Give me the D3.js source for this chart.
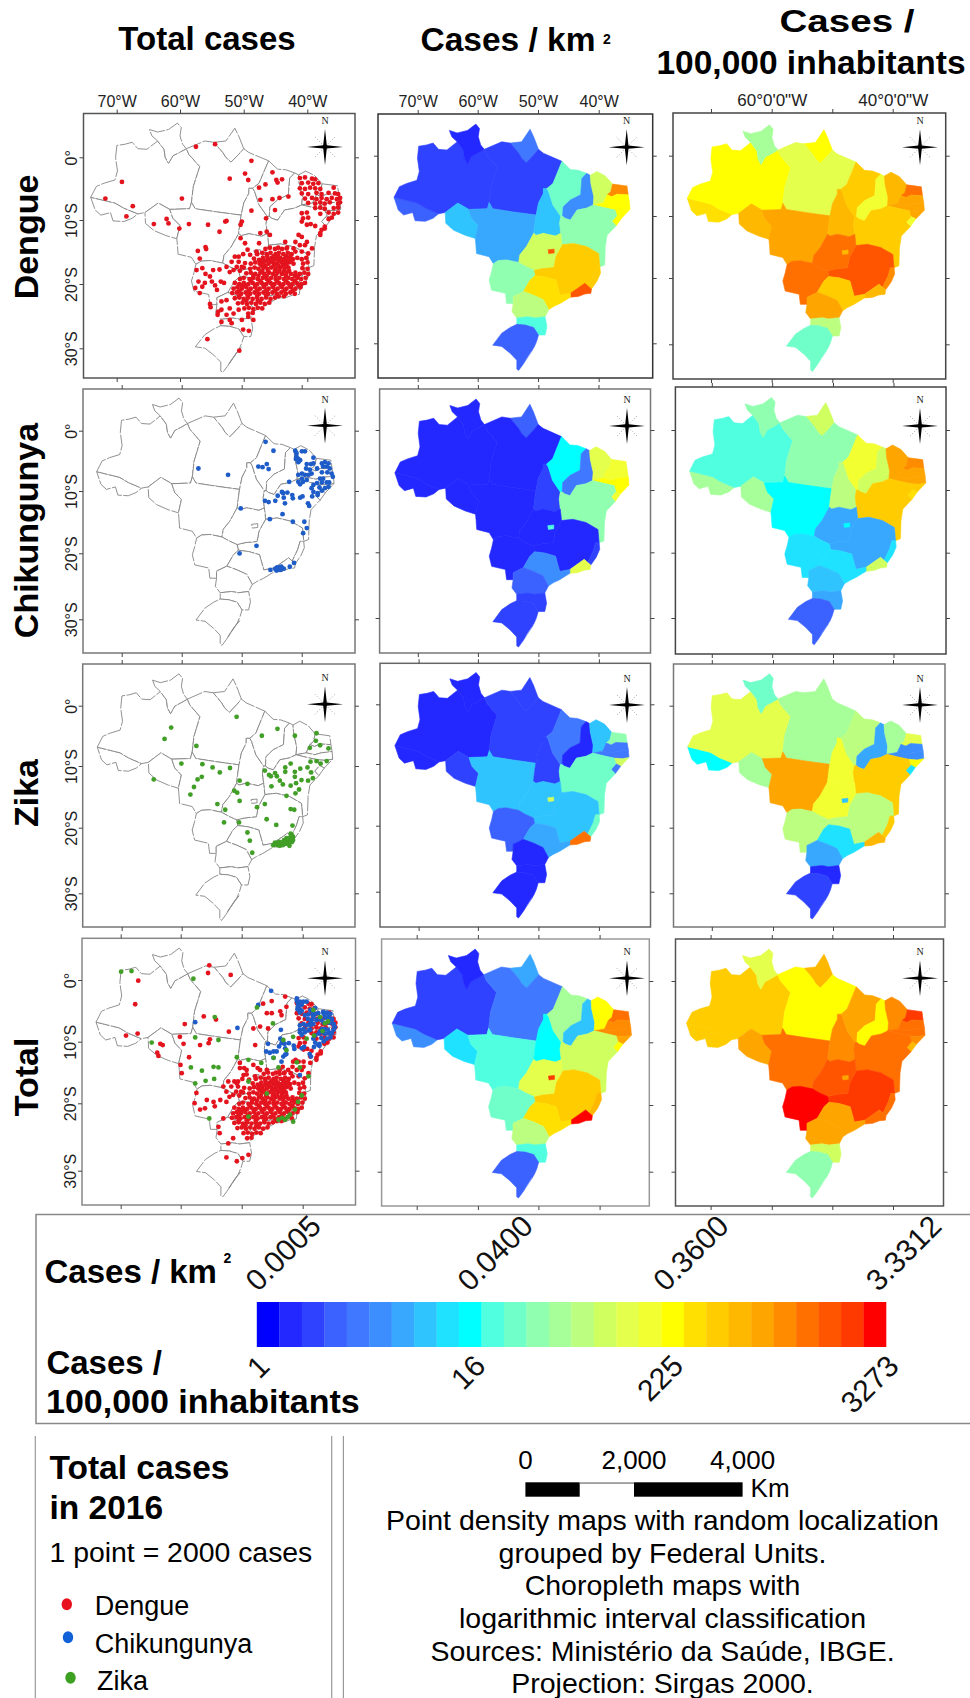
<!DOCTYPE html>
<html>
<head>
<meta charset="utf-8">
<script src="https://cdn.jsdelivr.net/npm/d3@7"></script>
<style>
  body { margin: 0; background: #fff; }
  text { font-family: "Liberation Sans", Arial, sans-serif; }
  .domain { display: none; }
</style>
</head>
<body>
<div id="chart"></div>
<script>
// labels
const columnNames = ["Total cases", "Cases / km", "Cases /", "100,000 inhabitants"]
const rowNames = ["Dengue", "Chikungunya", "Zika", "Total"]
const lonTicks = [-70, -60, -50, -40]
const latTicks = [0, -10, -20, -30]
const lonLabels = ["70°W", "60°W", "50°W", "40°W"]
const lonLabelsDms = ["", "60°0'0\"W", "", "40°0'0\"W"]
const latLabels = ["0°", "10°S", "20°S", "30°S"]

// colour classes of the legend, blue to red
const ramp = ["#0000ff", "#2228ff", "#2e42ff", "#3b62ff", "#4078ff", "#3c8eff", "#38a8ff", "#30c4ff", "#1ee2ff", "#00ffff",
  "#50ffe0", "#70ffc8", "#90ffb0", "#a6ff98", "#bcff80", "#d0ff60", "#e4ff4c", "#f2ff30", "#ffff00", "#ffe000",
  "#ffcc00", "#ffb800", "#ffa500", "#ff8c00", "#ff7000", "#ff5500", "#ff3a00", "#ff0000"]
const kmLabels = ["0.0005", "0.0400", "0.3600", "3.3312"]
const popLabels = ["1", "16", "225", "3273"]

// state outlines, lon / lat
const stateNames = ["AC","AM","RR","AP","PA","RO","MT","TO","MA","PI","CE","RN","PB","PE","AL","SE","BA","MG","ES","RJ","GO","DF","MS","SP","PR","SC","RS"]
const AC = [[-74,-6.3],[-70.2,-7.2],[-68.8,-8],[-66.6,-8.9],[-67.5,-9.6],[-68.8,-10.1],[-70.5,-10],[-70.9,-8.7],[-72.4,-9.1],[-73.3,-8.3]]
const AM = [[-74,-6.3],[-73.1,-4.6],[-71.9,-4.1],[-70.2,-3.6],[-69.8,-2.2],[-70.1,-0.1],[-69.9,1.8],[-68.6,2],[-67.5,2.3],[-66.6,1.3],[-65.2,1.2],[-63.5,2.5],[-62.5,1.2],[-62.3,-0.1],[-61.8,-1],[-61.1,0.2],[-60.1,0.7],[-59,1.3],[-58.6,0.4],[-56.9,-1.5],[-57.9,-4.6],[-58.2,-7.1],[-58.5,-8.1],[-61.6,-8.2],[-63.4,-7.2],[-65.5,-8.7],[-66.6,-8.9],[-68.8,-8],[-70.2,-7.2]]
const RR = [[-64.8,4.3],[-63.5,3.9],[-61.8,4.3],[-60.4,5.3],[-59.8,4.6],[-60,3.3],[-59.6,2],[-59,1.3],[-60.1,0.7],[-61.1,0.2],[-61.8,-1],[-62.3,-0.1],[-62.5,1.2],[-63.5,2.5],[-64.4,3.3]]
const AP = [[-54.7,2.3],[-52.8,2.5],[-51.4,4.5],[-50.8,3.3],[-50,1.3],[-50.8,0.4],[-52,-0.8],[-52.8,-0.1],[-53.3,0.7]]
const PA = [[-59,1.3],[-56.1,2.5],[-54.7,2.3],[-53.3,0.7],[-52.8,-0.1],[-52,-0.8],[-50.8,0.4],[-50,1.3],[-49.2,0.7],[-46.1,-0.6],[-46.7,-2],[-47.6,-4.1],[-48.6,-4.9],[-49.2,-4.9],[-49.2,-5.7],[-50,-7.2],[-50.4,-9.1],[-54.2,-8.6],[-57.6,-8.1],[-58.2,-7.1],[-57.9,-4.6],[-56.9,-1.5],[-58.6,0.4]]
const RO = [[-65.5,-8.7],[-63.4,-7.2],[-61.6,-8.2],[-61.1,-9.6],[-60,-10.7],[-60.5,-12.8],[-62.2,-12.3],[-64.1,-11.5],[-65.4,-10.4]]
const MT = [[-61.6,-8.2],[-58.5,-8.1],[-58.2,-7.1],[-57.6,-8.1],[-54.2,-8.6],[-50.4,-9.1],[-50.6,-10.4],[-50.8,-12],[-52,-14.1],[-53.1,-15.4],[-53.3,-16.6],[-55.3,-16.2],[-56.7,-16.3],[-57.5,-16.8],[-58.2,-15.7],[-60.3,-15.2],[-60.4,-13.8],[-60.5,-12.8],[-60,-10.7],[-61.1,-9.6]]
const TO = [[-49.2,-4.9],[-48.6,-4.9],[-48.3,-5.4],[-47.6,-7.5],[-46.3,-9.3],[-46.5,-10.4],[-46.3,-12],[-47.2,-12.4],[-49.2,-12],[-50.4,-12.3],[-50.8,-12],[-50.6,-10.4],[-50.4,-9.1],[-50,-7.2],[-49.2,-5.7]]
const MA = [[-46.1,-0.6],[-44.7,-1.9],[-43.4,-2],[-42,-2.5],[-42.8,-3.3],[-43,-5.9],[-44.7,-6.7],[-45.9,-7.8],[-46,-9.3],[-46.3,-9.3],[-47.6,-7.5],[-48.3,-5.4],[-48.6,-4.9],[-47.6,-4.1],[-46.7,-2]]
const PI = [[-42.8,-3.3],[-42,-2.5],[-41.4,-2.8],[-41.3,-4.1],[-40.8,-6.2],[-40.9,-7.5],[-42,-8],[-43.6,-8.3],[-44.7,-9.9],[-45.6,-9.6],[-46,-9.3],[-45.9,-7.8],[-44.7,-6.7],[-43,-5.9]]
const CE = [[-41.4,-2.8],[-40.3,-2.2],[-38.9,-2.9],[-37.7,-4.2],[-38,-5.4],[-38.6,-5.9],[-39.2,-7.2],[-40.9,-7.5],[-40.8,-6.2],[-41.3,-4.1]]
const RN = [[-37.7,-4.2],[-35.3,-4.5],[-35.1,-5.9],[-37,-5.8],[-37.8,-6.2],[-38.6,-5.9],[-38,-5.4]]
const PB = [[-38.6,-5.9],[-37.8,-6.2],[-37,-5.8],[-35.1,-5.9],[-34.9,-7],[-36.7,-7.2],[-37.8,-7.5],[-39.2,-7.2]]
const PE = [[-40.9,-7.5],[-39.2,-7.2],[-37.8,-7.5],[-36.7,-7.2],[-34.9,-7],[-34.8,-8.2],[-35.9,-8.4],[-37.3,-8.3],[-39.2,-7.9]]
const AL = [[-37.3,-8.3],[-35.9,-8.4],[-34.8,-8.2],[-36.2,-9.6],[-37,-9.2]]
const SE = [[-37,-9.2],[-36.2,-9.6],[-37.1,-10.8],[-37.8,-10.1]]
const BA = [[-46.3,-9.3],[-46,-9.3],[-45.6,-9.6],[-44.7,-9.9],[-43.6,-8.3],[-42,-8],[-40.9,-7.5],[-39.2,-7.9],[-37.3,-8.3],[-37,-9.2],[-37.8,-10.1],[-37.1,-10.8],[-38.6,-12.3],[-38.9,-14.1],[-39,-17],[-39.8,-17.3],[-40,-15.2],[-42,-14.1],[-44.2,-13.6],[-46.1,-13.8],[-46.3,-12],[-46.5,-10.4]]
const MG = [[-46.1,-13.8],[-44.2,-13.6],[-42,-14.1],[-40,-15.2],[-39.8,-17.3],[-40.4,-17.3],[-40.8,-18.6],[-41.7,-20.4],[-42.3,-19.9],[-44.7,-21.5],[-46.4,-21.8],[-47.1,-19.4],[-48.9,-18.9],[-50.6,-18.7],[-50.8,-17.8],[-49.5,-17.5],[-47.5,-17.3],[-47.2,-15.7]]
const ES = [[-39.8,-17.3],[-39.7,-18.3],[-40.3,-19.6],[-41.2,-20.8],[-41.7,-20.4],[-40.8,-18.6],[-40.4,-17.3]]
const RJ = [[-44.7,-21.5],[-42.3,-19.9],[-41.7,-20.4],[-41.2,-20.8],[-41.3,-21.5],[-42.3,-21.6],[-43.4,-22],[-44.7,-22.1]]
const GO = [[-50.8,-12],[-50.4,-12.3],[-49.2,-12],[-47.2,-12.4],[-46.3,-12],[-46.1,-13.8],[-47.2,-15.7],[-47.5,-17.3],[-49.5,-17.5],[-50.8,-17.8],[-52.2,-17.2],[-53.3,-16.6],[-53.1,-15.4],[-52,-14.1]]
const DF = [[-48.4,-14.6],[-47.4,-14.5],[-47.4,-15.1],[-48.3,-15.2]]
const MS = [[-57.5,-16.8],[-56.7,-16.3],[-55.3,-16.2],[-53.3,-16.6],[-52.2,-17.2],[-50.8,-17.8],[-50.6,-18.7],[-51.4,-19.4],[-52.5,-21.2],[-54.2,-22],[-54.2,-23.1],[-55.3,-23.1],[-55.5,-21.5],[-57.8,-21],[-58.2,-19.4],[-57.8,-18.1]]
const SP = [[-50.6,-18.7],[-48.9,-18.9],[-47.1,-19.4],[-46.4,-21.8],[-44.7,-21.5],[-44.7,-22.1],[-46.4,-23.1],[-47.5,-23.6],[-48.3,-24.1],[-49.2,-22.5],[-50.8,-21.8],[-52.5,-21.2],[-51.4,-19.4]]
const PR = [[-54.2,-22],[-52.5,-21.2],[-50.8,-21.8],[-49.2,-22.5],[-48.3,-24.1],[-48.9,-25.2],[-50.6,-25.4],[-51.7,-25.2],[-53.6,-25.4],[-54.4,-24.4],[-54.2,-23.1]]
const SC = [[-53.6,-25.4],[-51.7,-25.2],[-50.6,-25.4],[-48.9,-25.2],[-48.6,-26.8],[-48.9,-28.1],[-50,-28.1],[-50.8,-26.9],[-52.2,-26.5],[-53.6,-26.4]]
const RS = [[-53.6,-26.4],[-52.2,-26.5],[-50.8,-26.9],[-50,-28.1],[-50.3,-29.1],[-50.8,-30.2],[-51.7,-31.5],[-52.6,-32.8],[-53.3,-33.7],[-53.6,-33.5],[-53.6,-32.1],[-54.7,-31],[-56.1,-29.9],[-57.6,-29.7],[-56.1,-27.8],[-54.7,-26.9]]
const lagoon = [[-50.4,-29.8],[-50.8,-30.2],[-51.5,-31.2],[-52,-31.9],[-52.3,-32.3],[-51.9,-31.7],[-51.2,-30.7],[-50.7,-30.2]]
const stateShapes = [AC,AM,RR,AP,PA,RO,MT,TO,MA,PI,CE,RN,PB,PE,AL,SE,BA,MG,ES,RJ,GO,DF,MS,SP,PR,SC,RS]

// ramp class by state, same order as stateNames
const dengueKm = [3,2,1,4,2,7,6,7,11,5,15,23,18,18,18,18,12,20,20,25,15,25,12,19,14,10,3]
const denguePop = [19,18,13,18,16,21,22,21,20,17,21,24,22,22,22,17,20,25,23,21,24,21,24,20,22,14,11]
const chikKm = [1,1,1,3,1,1,1,2,9,4,16,17,17,18,18,17,12,1,2,16,1,10,1,5,3,2,2]
const chikPop = [13,10,12,15,12,13,9,14,17,15,22,23,22,22,20,19,20,6,8,15,6,9,8,8,7,6,3]
const zikaKm = [1,1,1,2,2,2,7,2,4,1,7,12,4,4,15,4,11,7,11,24,7,15,3,6,1,1,1]
const zikaPop = [9,16,11,13,13,13,22,17,14,6,13,16,5,5,18,8,20,14,20,21,17,7,14,8,6,1,2]
const totalKm = [5,2,1,6,4,8,10,9,13,7,18,24,23,23,22,18,15,20,21,27,16,26,11,19,14,10,3]
const totalPop = [20,20,16,21,18,22,24,23,22,18,23,26,24,24,23,21,24,26,24,24,25,22,27,22,22,15,12]

// points, 1 point = 2000 cases
const dengueWest = [[-69.1,-3.9],[-71.7,-6.5],[-67.4,-7.7],[-68.4,-9.3],[-59.7,-6.5],[-57.5,1.6],[-54.5,2],[-48.8,-0.6],[-49.8,-2.6],[-49.3,-3.6],[-52.2,-3.4],[-64.1,-10.5],[-62.1,-9.7],[-61.8,-10.4],[-60.1,-11.2],[-58.6,-10.5],[-55.6,-10.6],[-53.8,-11.7],[-52.7,-10],[-52.9,-10.1],[-50.3,-10.1],[-50.5,-10.6],[-57.2,-14.7],[-56,-14.1],[-55.9,-14.4],[-56.9,-15.9],[-57.4,-17.7],[-56.5,-17.4],[-54.8,-17.7],[-53.8,-17.6],
  [-56,-18.3],[-55.3,-18.7],[-57.1,-19.5],[-56.1,-19.7],[-54.5,-20.1],[-55,-19.5],[-53.6,-19.5],[-53.1,-19.7],[-56.5,-20.3],[-57.6,-20.5],[-56.9,-21.3],[-54.2,-20.8],[-55.3,-23],[-55.2,-23.5],[-54,-24.2],[-54.1,-24.7],[-53.5,-22.6],[-52.7,-22.4],[-53.5,-23.9],[-52.2,-23.7],[-52.7,-24.7],[-53.5,-25.8],[-52.2,-25.5],[-51.6,-24.5],[-50.8,-23.9],[-50.3,-25.5],[-51.9,-26],[-50.1,-27],[-49.2,-27.2],[-48.5,-25.5],[-49.3,-25],[-55.7,-28.5],[-50.7,-30.3],
  [-45.5,-2.4],[-44.9,-3.6],[-44.7,-4],[-44,-3.5],[-46.6,-4.3],[-47.4,-6.7],[-45.5,-6.6],[-44.4,-6.4],[-43,-6.2],[-45.1,-8.3],[-47.6,-4.8],[-48.8,-8.4],[-46.5,-9.6],[-47.4,-11.9],[-45.9,-12.2],[-46.4,-11.7]]
const dengueEast = [[-52.7,-17.2],[-51.9,-16.4],[-51.4,-15.6],[-50.8,-16.4],[-50.3,-17.2],[-51.1,-17.2],[-51.6,-17.7],[-50.6,-17.8],[-49.8,-16.6],[-52.2,-18],[-50.5,-12.7],[-49.8,-13.5],[-49.4,-14.5],[-50.1,-15.2],[-50.8,-15.6],[-49,-15.3],[-48,-14.8],[-47.6,-13.5],
  [-43.5,-13.3],[-41.9,-13.3],[-41.4,-12.2],[-40.9,-12.5],[-40.1,-13.3],[-39.3,-14.3],[-40.4,-13.8],[-41.2,-13.8],[-42.2,-14.3],[-43.3,-14.3],[-40.9,-14.8],[-39.9,-15.1],[-41.9,-14.8],[-38,-11.9],[-37.3,-11.2],[-40.9,-10.1],[-40.1,-10.6],[-39.5,-10.5],[-38.8,-10.8],[-37.3,-10.9],[-37.8,-11.4],[-38,-12.2],
  [-41.2,-3.3],[-40.4,-3.2],[-39.3,-3.4],[-38.8,-3.5],[-40.9,-4.1],[-39.9,-4],[-39.1,-4.2],[-38.3,-4.1],[-41.2,-4.9],[-40.4,-5],[-39.6,-4.8],[-38.8,-4.9],[-38,-5],[-35.9,-4.8],[-40.9,-5.7],[-39.9,-5.8],[-38.6,-5.6],[-37.8,-5.8],[-36.7,-5.6],[-35.7,-5.7],[-35.2,-5.8],[-40.4,-6.5],[-39.3,-6.4],[-38.6,-6.6],[-37.8,-6.4],[-37,-6.6],[-36.2,-6.4],[-35.4,-6.6],[-34.9,-6.4],[-39.9,-7.2],[-38.8,-7.3],[-38,-7.1],[-37.3,-7.3],[-36.5,-7.1],[-35.2,-7.3],[-34.9,-7.1],[-38.8,-8],[-38,-7.9],[-37.3,-8.1],[-35.9,-8],[-35.2,-7.9],[-40.9,-8.8],[-40.1,-8.7],[-38,-8.9],[-36.7,-8.7],[-35.9,-8.9],[-35.2,-8.7],[-40.7,-9.6],[-39.9,-9.5],[-36.7,-9.7],[-36.2,-9.5]]
const dengueDense = [[-46.6,-14.4],[-45.9,-14.2],[-45.1,-14.4],[-44.6,-14.2],[-44,-14.4],[-43.2,-14.2],[-47.9,-15.2],[-47.1,-15],[-46.4,-15.2],[-45.8,-15],[-45,-15.2],[-44.5,-15],[-43.8,-15.2],[-43.1,-15],[-42.5,-15.2],
  [-48.4,-15.9],[-47.6,-16.1],[-47,-15.8],[-46.2,-16],[-45.6,-15.8],[-45,-16],[-44.3,-15.8],[-43.7,-16],[-43,-15.8],[-42.3,-16],[-41.6,-15.8],[-40.9,-16],[-40.2,-15.8],
  [-48.9,-16.7],[-48.2,-16.5],[-47.5,-16.7],[-46.9,-16.5],[-46.1,-16.7],[-45.4,-16.5],[-44.8,-16.7],[-44.1,-16.5],[-43.5,-16.7],[-42.9,-16.5],[-42.2,-16.7],[-40.7,-16.7],[-40,-16.5],
  [-50,-17.3],[-49,-17.5],[-48.3,-17.3],[-47.7,-17.5],[-46.9,-17.3],[-46.3,-17.5],[-45.7,-17.3],[-45,-17.5],[-44.3,-17.3],[-43.6,-17.5],[-43,-17.3],[-40.8,-17.4],[-40,-17.5],
  [-49.6,-18.2],[-48.9,-18.1],[-48.2,-18.3],[-47.4,-18.1],[-46.8,-18.3],[-46,-18.1],[-45.4,-18.3],[-44.7,-18.1],[-44,-18.3],[-43.3,-18.1],[-42.6,-18.3],[-41.9,-18.1],[-41.2,-18.3],[-40.5,-18.1],[-39.9,-18.3],
  [-50.6,-19.1],[-50,-18.9],[-49.1,-19.1],[-48.5,-18.9],[-47.8,-19.1],[-47,-18.9],[-46.4,-19.1],[-45.7,-18.9],[-45,-19.1],[-44.4,-18.9],[-43.7,-19.1],[-43,-18.9],[-42.4,-19.1],[-41.6,-18.9],[-41,-19.1],[-40.3,-18.9],
  [-51.4,-19.7],[-50.7,-19.9],[-50,-19.7],[-49.3,-19.9],[-48.6,-19.7],[-47.9,-19.9],[-47.2,-19.7],[-46.5,-19.9],[-45.8,-19.7],[-45.2,-19.9],[-44.5,-19.7],[-43.8,-19.9],[-43.1,-19.7],[-42.4,-19.9],[-41.7,-19.7],[-41,-19.9],[-40.4,-19.7],
  [-51.6,-20.6],[-51,-20.4],[-50.3,-20.6],[-49.6,-20.4],[-48.9,-20.6],[-48.2,-20.4],[-47.5,-20.6],[-46.8,-20.4],[-46.1,-20.6],[-45.4,-20.4],[-44.7,-20.6],[-44,-20.4],[-43.3,-20.6],[-42.6,-20.4],[-41.9,-20.6],[-41.1,-20.4],
  [-51.8,-21.3],[-51.1,-21.2],[-50.4,-21.4],[-49.7,-21.2],[-49,-21.4],[-48.3,-21.2],[-47.6,-21.4],[-46.9,-21.2],[-46.2,-21.4],[-45.5,-21.2],[-44.8,-21.4],[-44.1,-21.2],[-43.4,-21.4],[-42.7,-21.2],[-42,-21.4],
  [-51.4,-22.1],[-50.7,-22],[-50,-22.2],[-49.3,-22],[-48.6,-22.2],[-47.9,-22],[-47.2,-22.2],[-46.5,-22],[-45.8,-22.2],[-45.1,-22],[-50.9,-22.9],[-50.2,-22.8],[-49.5,-23],[-48.8,-22.8],[-48.1,-23],[-47.4,-22.8],[-46.7,-23],[-46,-22.8],[-49.9,-23.7],[-49.2,-23.6],[-48.5,-23.8],[-47.8,-23.6],[-47.1,-23.7],[-49.3,-24.5],[-48.6,-24.4],
  [-46.3,-15.6],[-45.3,-15.5],[-44.6,-15.6],[-43.4,-15.5],[-42.7,-15.6],[-47.3,-16.3],[-46.5,-16.2],[-45.7,-16.3],[-44.5,-16.2],[-43.8,-16.3],[-43.2,-16.2],[-42.6,-16.3],[-47.2,-17],[-46.6,-17],[-45.3,-17],[-44.6,-17],[-43.9,-17],[-43.3,-17],[-47.1,-17.8],[-46.2,-17.9],[-45.1,-17.8],[-44.4,-17.8],[-43.7,-17.9],[-42.9,-17.8],[-48.5,-18.6],[-47.7,-18.6],[-46.4,-18.6],[-45,-18.6],[-43.4,-18.6],[-42,-18.6],[-41.5,-18.6],[-48.9,-19.4],[-47.4,-19.4],[-46.1,-19.4],[-44.8,-19.4],[-43.4,-19.4],[-42,-19.4],[-50.4,-20.1],[-49.9,-20.1],[-48.2,-20.1],[-46.9,-20.1],[-45.5,-20.1],[-44.2,-20.1],[-42.8,-20.1],[-41.4,-20.1],[-50.7,-20.9],[-49.2,-20.9],[-47.9,-20.9],[-46.4,-20.9],[-45.1,-20.9],[-43.6,-20.9],[-42.3,-20.9],[-50.7,-21.7],[-49.4,-21.7],[-47.9,-21.7],[-46.5,-21.7],[-44.5,-21.8],[-43.7,-21.8],[-49.6,-22.5],[-47.8,-22.5]]
const chikPoints = [[-46.1,-1.6],[-44.8,-3],[-57.2,-5.8],[-52.3,-6.8],[-47.3,-5.5],[-46.6,-5.6],[-45.9,-5.1],[-45.6,-5.9],[-42.2,-7.9],[-50.2,-12.1],[-47.6,-18],[-50.4,-19.2],[-45.4,-13.8],[-43.3,-13],[-41.6,-14.2],[-39.7,-14.2],[-39.3,-15.2],[-39.9,-16],[-41.4,-20.7],[-42.1,-21.3],[-45.3,-21.8],[-44.5,-21.6],[-44.2,-21.4],[-43.9,-21.8],[-43.5,-21.3],[-43.1,-21.6],[-43.8,-21.4],[-44.3,-21.9],[-43.6,-21.8],
  [-46.2,-10.9],[-45.6,-11.1],[-44.5,-10.9],[-44.1,-10.1],[-43.4,-9.5],[-43.2,-9.7],[-42.5,-9.6],[-43.1,-10.4],[-42.9,-11.3],[-41.7,-10],[-41.6,-10.5],[-40.4,-10.4],[-40,-10.2],[-39.1,-11.3],[-38.9,-11.7],[-38.4,-10.2],[-37.5,-10],
  [-41.2,-3],[-41,-3.4],[-40.1,-3.1],[-39.6,-3.1],[-41,-3.9],[-40.7,-4.3],[-40.4,-4.5],[-41.1,-4.3],[-40.7,-4.8],[-38.2,-4.1],[-39.3,-5.1],[-38.6,-5.1],[-38.2,-5],[-36.8,-5],[-36.3,-4.8],[-35.7,-5],[-36.6,-5.5],[-36,-5.5],[-35.5,-5.8],[-35.2,-6.6],[-35,-7.1],[-35.9,-6.4],[-36.8,-6.4],[-37.6,-5.8],[-38.8,-6],[-39.4,-5.8],[-40.1,-6.6],[-40.7,-6.8],[-39.6,-6.8],[-39,-6.8],[-38.5,-6.6],[-40.1,-7.4],[-40.7,-7.9],[-39.9,-7.9],[-40.4,-8.3],[-39.3,-7.6],[-37.1,-7.4],[-36.6,-7.4],[-37.6,-8.1],[-36.8,-8],[-38.2,-8.4],[-36,-8],[-35.6,-8],[-37.2,-8.8],[-36.3,-8.9],[-35.7,-8.7],[-38.2,-9.5],[-37.5,-9.7],[-36.8,-9.3],[-38.5,-8.9]]
const zikaPoints = [[-61.7,-3.2],[-62.8,-5],[-57.5,-6.1],[-60,-8.9],[-64.6,-11.4],[-50.8,-1.5],[-56.5,-9],[-54.8,-9.5],[-53.6,-10.3],[-51.9,-9.6],[-56.6,-11],[-57.3,-11.4],[-57.9,-12.6],[-58.5,-13.8],[-54,-15.3],[-52.7,-16.2],[-52.9,-18.2],[-50.4,-18.2],[-51.2,-13.2],[-50.7,-13.5],[-50.3,-14.8],[-50.3,-11.6],[-49,-12.1],[-46.6,-4.5],[-44,-3.4],[-41.1,-4.5],[-47.4,-15.8],[-46.1,-15.3],[-45.8,-17.7],[-44.2,-18.6],[-49,-19.8],[-48.6,-21.1],[-48.2,-23],[-42.5,-14],[-41.8,-16.1],[-41.2,-16.2],[-41.5,-18.7],
  [-46.1,-10],[-45.4,-10.7],[-45.1,-10.9],[-44.4,-10.4],[-44.1,-10.9],[-43.6,-11.6],[-43.1,-12.2],[-45,-12.5],[-41.8,-12.4],[-40.9,-12],[-40,-11.5],[-38.9,-11.6],[-38.1,-11.2],[-40.4,-13],[-41,-13.6],[-41.1,-11],[-42.7,-9.5],[-41.8,-8.9],[-42.7,-10.2],[-41.1,-10.2],[-40.2,-9.7],[-39,-9.5],[-38.4,-10.3],[-38.5,-8.6],[-37.5,-8.5],[-36.8,-8.9],[-35.8,-8.5],[-37.5,-4.1],[-37.6,-5.3],[-36.9,-6],[-38.6,-6.4],[-35.5,-6.5],
  [-44.7,-21.8],[-44.2,-21.6],[-43.9,-21.5],[-43.4,-21.7],[-43,-21.3],[-42.6,-21.3],[-42.2,-21],[-41.9,-20.6],[-41.6,-20.2],[-41.4,-20.5],[-42,-21.4],[-43.3,-21.4],[-44,-21.8],[-43.6,-21.9],[-42.9,-21],[-42.5,-20.7],[-41.8,-20],[-41.4,-21],[-42,-21.9],[-44.4,-21.4],[-43.7,-21.3],[-42.8,-21.6],[-42.3,-21.6],[-41.7,-20.9],[-41.6,-21.3],[-43.1,-21.8]]
const totalDengueExtra = [[-67.1,0.2],[-67.6,-3.5],[-69.1,-8.4],[-67.2,-8.1],[-59.5,-6.6],[-56.4,-5.4],[-54.4,-5.9],[-52.3,-7.8],[-55.5,2.6],[-55.7,1.4],[-52,1.1],[-63.5,-9.7],[-63.1,-9.9],[-64,-11.1],[-63.8,-11.6],[-60.3,-8.6],[-59.7,-9.7],[-55.4,-9],[-55.6,-9.6],[-57,-9.9],[-60.2,-13],[-58.8,-11.8],[-60,-14.3],[-48.3,-7.3],[-48,-9.9],[-47.2,-7],[-45.9,-7.3],[-46.1,-4.9],[-45.3,-4.9],[-45.3,-3],[-46.7,-3.4],[-43.9,-4.6],[-43.7,-5.2],[-42.9,-3.9],[-43.1,-2.3],
  [-57.6,-17.4],[-57.9,-19],[-55.9,-18.5],[-54.8,-18.8],[-53.7,-18.5],[-57,-20],[-56.2,-19.8],[-54.6,-19.5],[-52.7,-18.8],[-53.2,-21.4],[-54,-22.7],[-53.8,-23.7],[-52.4,-25.3],[-51.6,-24.5],[-49.1,-27.1],[-50.1,-27.6],[-51,-28.1],[-52.7,-27.5],
  [-51,-15.9],[-52.4,-15.6],[-53.2,-16.4],[-50.5,-13.5],[-49.4,-13.8],[-48.3,-13],[-47.2,-13.8],[-46.1,-13.8],[-49.9,-14.6],[-39,-11.7],[-40.1,-12.5],[-39,-12.7],[-41.8,-12.5],[-42.6,-13.8],[-44,-13.8]]
const totalChikExtra = [[-45.4,-1.4],[-57.8,-6.3],[-50.9,-7.2],[-43.8,-7.5],[-47.5,-3.6],[-43.9,-8.9],[-43.7,-9.6],[-45.9,-9.7],[-45,-10.9],[-45,-11.9],[-43.4,-11.7],[-43.1,-11.4],[-43.7,-12.5],[-40.7,-14.6],
  [-41.2,-2.6],[-40.7,-3.1],[-40.4,-3.6],[-39,-4.4],[-38.5,-4.9],[-37.7,-4.9],[-36.9,-4.7],[-36.1,-4.9],[-35.5,-6],[-35.2,-6.7],[-36.1,-7.5],[-36.6,-8.1],[-37.4,-7.8],[-38,-6],[-39,-6.5],[-39.9,-5.2],[-39,-7.5],[-40.7,-7.5],[-35.2,-7.5],[-35.5,-8.1],[-37.7,-9.9],[-38.5,-5.5],[-37.2,-6],[-36.4,-5.6]]
const totalZikaExtra = [[-69.9,1.6],[-68.2,1.7],[-58.1,0.5],[-57.8,-8.7],[-54.6,-5.5],[-64.9,-9.5],[-54,-9.1],[-56.7,-13.9],[-54.8,-13.3],[-54,-13.4],[-58.5,-13.4],[-54.7,-15.2],[-56.1,-15.5],[-57.8,-15.9],[-55.5,-21.4],[-47.7,-4],[-45.1,-6.5],[-51,-11.8],[-49.1,-12.2],[-49.1,-15.6],[-47,-12.7],[-45,-11.9],[-44.2,-13.4],[-42.9,-10.7],[-43.4,-9.1],[-41.8,-8.6],[-41.2,-12.6],[-40.7,-13.4],[-39.3,-14.8],[-38.5,-4.4],[-36.6,-6.5],[-44.2,-21.6],[-43.1,-21.6],[-42.3,-20.8],[-41.5,-20],[-41,-18.8],[-41.8,-21.9],[-49.1,-21.1],[-46.1,-17.5],[-37.4,-5.5],[-37,-7.7],[-36.1,-6.2],[-38.4,-8.4],[-39.6,-8.9],[-42.7,-21.2],[-43.6,-21.3],[-40.4,-17.8]]

const RED = "#e3141e", BLUE = "#1e5cc8", GREEN = "#419e26"
const pointLayers = [
  [[dengueWest, RED], [dengueEast, RED], [dengueDense, RED]],
  [[chikPoints, BLUE]],
  [[zikaPoints, GREEN]],
  [[totalDengueExtra, RED], [dengueEast, RED], [dengueDense, RED], [chikPoints.slice(29), BLUE], [totalChikExtra, BLUE], [totalZikaExtra, GREEN]]
]
const choropleths = [[dengueKm, denguePop], [chikKm, chikPop], [zikaKm, zikaPop], [totalKm, totalPop]]

// panel layout: frame x0 y0 x1 y1, map box x0 x1 y0 y1, tick pixels, compass centre
const layout = [
  [{ f: [83.5, 113.5, 355, 378], m: [90.7, 340.7, 123.3, 372.7], xt: [116.7, 180, 243.7, 307.3], yt: [157.3, 220, 284, 348.3], c: [325, 147], s: "#555" },
   { f: [378, 114, 652.7, 378], m: [394, 630, 124.3, 370.7], xt: [417.7, 477.7, 538, 598.7], yt: [155.7, 216, 278, 343.3], c: [626.7, 147.3], s: "#333" },
   { f: [673, 113, 945.7, 379], m: [687.3, 924.3, 125, 371.7], xt: [711, 771.7, 832.3, 892.7], yt: [155.7, 216, 278, 344.3], c: [920, 147.3], s: "#444" }],
  [{ f: [83, 389, 355, 653], m: [96.7, 334, 398.3, 645.7], xt: [121.7, 181.7, 241.7, 301.7], yt: [430.7, 491, 553.3, 619.3], c: [325, 425.7], s: "#777" },
   { f: [379.6, 389, 650.5, 653], m: [394.9, 629, 399.3, 647.4], xt: [417.8, 477.9, 538.4, 598.5], yt: [430, 490, 552.3, 618], c: [627, 426], s: "#777" },
   { f: [675.4, 387, 946, 654], m: [689.6, 925.7, 397.7, 645], xt: [711.8, 772.2, 833, 893.5], yt: [430, 490, 552.7, 618], c: [920, 426], s: "#444" }],
  [{ f: [82.7, 664, 355, 927], m: [97.3, 332.7, 674, 920.7], xt: [121.7, 181.7, 241.7, 301.7], yt: [705.7, 766, 827.7, 893.3], c: [325, 704.3], s: "#777" },
   { f: [380, 663.3, 650.5, 927], m: [394.9, 629, 672.7, 918.3], xt: [418.6, 477.9, 538.4, 598.9], yt: [704.3, 764, 825.7, 891.7], c: [627, 705], s: "#666" },
   { f: [673.5, 664, 945, 927], m: [687.6, 923.8, 674, 919.3], xt: [711.8, 773, 833, 893], yt: [705.7, 765, 827.7, 893.3], c: [920, 705], s: "#777" }],
  [{ f: [82, 938.3, 355.5, 1205], m: [96, 336, 948.3, 1197.3], xt: [120.7, 180.7, 241.7, 302.7], yt: [980, 1041.7, 1103.3, 1170.7], c: [325, 978.3], s: "#888" },
   { f: [381.6, 939, 649.3, 1206], m: [392.2, 631.4, 949.3, 1198.3], xt: [416.7, 477.9, 538.4, 599.6], yt: [981, 1042.3, 1105, 1171.7], c: [627, 978.3], s: "#999" },
   { f: [675.5, 939, 943.5, 1206], m: [686.5, 925, 949.3, 1198.3], xt: [710.6, 771.8, 832.3, 893], yt: [981, 1042, 1105, 1171.7], c: [920, 978.3], s: "#555" }]
]

const svg = d3.select("#chart").append("svg").attr("width", 970).attr("height", 1698)
svg.append("rect").attr("width", 970).attr("height", 1698).attr("fill", "#fff")

function drawCompass(g, cx, cy) {
  const c = g.append("g").attr("transform", `translate(${cx},${cy})`)
  // thin dotted diagonals
  c.append("path").attr("d", "M-10,-10L10,10M-10,10L10,-10").attr("stroke", "#444").attr("stroke-width", 0.5).attr("stroke-dasharray", "1,2")
  c.append("path").attr("fill", "#000").attr("d", "M0,-18L1.8,-1.8L18,0L1.8,1.4L0,18L-1.8,1.4L-18,0L-1.8,-1.8Z")
  c.append("text").attr("y", -23).attr("text-anchor", "middle").attr("font-size", 10).style("font-family", "'Liberation Serif', serif").attr("fill", "#222").text("N")
}

layout.forEach((rowPanels, r) => {
  rowPanels.forEach((p, c) => {
    const g = svg.append("g")
    const x = d3.scaleLinear().domain([-74, -34.8]).range([p.m[0], p.m[1]])
    const y = d3.scaleLinear().domain([5.27, -33.75]).range([p.m[2], p.m[3]])
    const xTick = d3.scaleLinear().domain(lonTicks).range(p.xt)
    const yTick = d3.scaleLinear().domain(latTicks).range(p.yt)
    const line = d3.line().x(d => x(d[0])).y(d => y(d[1])).curve(d3.curveLinearClosed)

    g.append("rect")
      .attr("x", p.f[0]).attr("y", p.f[1])
      .attr("width", p.f[2] - p.f[0]).attr("height", p.f[3] - p.f[1])
      .attr("fill", "#fff").attr("stroke", p.s).attr("stroke-width", 1.5)

    if (c === 0) {
      g.selectAll(".state").data(stateShapes).join("path")
        .attr("class", "state").attr("d", line)
        .attr("fill", "#fff").attr("stroke", "#858585").attr("stroke-width", 0.9)
        .attr("stroke-dasharray", "16,1.5")
      g.append("path").attr("d", line(lagoon)).attr("fill", "#fff").attr("stroke", "#858585").attr("stroke-width", 0.8)
      pointLayers[r].forEach(([pts, color]) => {
        g.append("g").selectAll("circle").data(pts).join("circle")
          .attr("cx", d => x(d[0])).attr("cy", d => y(d[1]))
          .attr("r", 2.4).attr("fill", color)
      })
    } else {
      const classes = choropleths[r][c - 1]
      g.selectAll(".state").data(stateShapes).join("path")
        .attr("class", "state").attr("d", line)
        .attr("fill", (d, i) => ramp[classes[i]])
        .attr("stroke", (d, i) => ramp[classes[i]]).attr("stroke-width", 0.6)
      g.append("path").attr("d", line(lagoon)).attr("fill", "#fff")
    }

    drawCompass(g, p.c[0], p.c[1])

    // ticks stick out on all four sides
    const top = g.append("g").attr("transform", `translate(0,${p.f[1]})`)
      .call(d3.axisTop(xTick).tickValues(lonTicks).tickSize(4).tickPadding(3)
        .tickFormat((d, i) => r > 0 ? "" : (c === 2 ? lonLabelsDms[i] : lonLabels[i])))
    top.selectAll("text").attr("font-size", c === 2 ? 17 : 16).attr("fill", "#222").style("font-family", "'Liberation Sans', sans-serif")
    g.append("g").attr("transform", `translate(0,${p.f[3]})`)
      .call(d3.axisBottom(xTick).tickValues(lonTicks).tickSize(4).tickFormat(""))
    const left = g.append("g").attr("transform", `translate(${p.f[0]},0)`)
      .call(d3.axisLeft(yTick).tickValues(latTicks).tickSize(4)
        .tickFormat((d, i) => c === 0 ? latLabels[i] : ""))
    left.selectAll("text")
      .attr("x", 0).attr("dy", 0).attr("text-anchor", "middle")
      .attr("transform", "translate(-6.2,0) rotate(-90)")
      .attr("font-size", 16).attr("fill", "#222").style("font-family", "'Liberation Sans', sans-serif")
    g.append("g").attr("transform", `translate(${p.f[2]},0)`)
      .call(d3.axisRight(yTick).tickValues(latTicks).tickSize(4).tickFormat(""))
    g.selectAll(".tick line").attr("stroke", "#444")
  })
})

// column and row headers
function label(txt, x, y, size, opts = {}) {
  return svg.append("text").attr("x", x).attr("y", y).attr("font-size", size)
    .attr("font-weight", opts.bold ? "bold" : "normal")
    .attr("text-anchor", opts.anchor || "start")
    .attr("fill", opts.fill || "#000")
    .text(txt)
}
label(columnNames[0], 207, 50, 33, { bold: true, anchor: "middle" })
label(columnNames[1], 508, 51, 33.5, { bold: true, anchor: "middle" })
label("2", 603, 44, 14, { bold: true })
label(columnNames[2], 847, 32, 32, { bold: true, anchor: "middle" })
  .attr("textLength", 135).attr("lengthAdjust", "spacingAndGlyphs")
label(columnNames[3], 811, 73.6, 33.5, { bold: true, anchor: "middle" })

const rowCentres = [237, 530.5, 793, 1077]
rowNames.forEach((name, i) => {
  svg.append("text").attr("transform", `translate(38,${rowCentres[i]}) rotate(-90)`)
    .attr("text-anchor", "middle").attr("font-size", 34).attr("font-weight", "bold").text(name)
})

// colour legend box
svg.append("path").attr("d", "M970,1214.5H36V1423.5H970").attr("fill", "none").attr("stroke", "#888").attr("stroke-width", 1.5)
const band = d3.scaleBand().domain(d3.range(ramp.length)).range([256.8, 886])
svg.append("g").selectAll("rect").data(ramp).join("rect")
  .attr("x", (d, i) => band(i)).attr("y", 1302).attr("width", band.bandwidth() + 0.3).attr("height", 45)
  .attr("fill", d => d)

label("Cases / km", 44.5, 1282.7, 33, { bold: true })
label("2", 223.5, 1263, 14, { bold: true })
label("Cases /", 46.4, 1374, 33, { bold: true })
label("100,000 inhabitants", 46, 1413, 34, { bold: true })

const kmCentres = [283, 495, 690.8, 903.5]
kmLabels.forEach((t, i) => {
  svg.append("text").attr("transform", `translate(${kmCentres[i]},1253) rotate(-45)`)
    .attr("text-anchor", "middle").attr("dy", "0.35em").attr("font-size", 30).attr("fill", "#111").text(t)
})
const popCentres = [[258, 1366.7], [468, 1372], [660, 1378], [869.5, 1384]]
popLabels.forEach((t, i) => {
  svg.append("text").attr("transform", `translate(${popCentres[i][0]},${popCentres[i][1]}) rotate(-45)`)
    .attr("text-anchor", "middle").attr("dy", "0.35em").attr("font-size", 30).attr("fill", "#111").text(t)
})

// bottom panels
const separators = [35.3, 331.7, 343.4]
svg.selectAll(".sep").data(separators).join("line").attr("class", "sep")
  .attr("x1", d => d).attr("x2", d => d).attr("y1", 1436).attr("y2", 1698)
  .attr("stroke", "#999").attr("stroke-width", 1.2)

label("Total cases", 49.5, 1479.3, 33.5, { bold: true })
label("in 2016", 49.5, 1518.7, 33.5, { bold: true })
label("1 point = 2000 cases", 49.5, 1561.7, 28.4)

const keyNames = ["Dengue", "Chikungunya", "Zika"]
const keyColors = ["#e8121e", "#1060d8", "#3ca020"]
const keyDots = [[66.8, 1604.3], [68, 1637.3], [70.5, 1677.7]]
const keyText = [[94.7, 1615], [94.7, 1653.3], [97, 1690]]
keyNames.forEach((n, i) => {
  svg.append("ellipse").attr("cx", keyDots[i][0]).attr("cy", keyDots[i][1]).attr("rx", 5.2).attr("ry", 6).attr("fill", keyColors[i])
  label(n, keyText[i][0], keyText[i][1], 27)
})

// scale bar
const km = d3.scaleLinear().domain([0, 4000]).range([525.4, 742.6])
const barTicks = [0, 2000, 4000]
barTicks.forEach(d => label(d3.format(",")(d), km(d), 1469, 26, { anchor: "middle" }))
svg.append("rect").attr("x", km(0)).attr("y", 1482.3).attr("width", km(1000) - km(0)).attr("height", 14.4)
svg.append("rect").attr("x", km(2000)).attr("y", 1482.3).attr("width", km(4000) - km(2000)).attr("height", 14.4)
svg.append("rect").attr("x", km(1000)).attr("y", 1482.3).attr("width", km(1000) - km(0)).attr("height", 1.5).attr("fill", "#888")
label("Km", 750.6, 1496.7, 26)

const notes = ["Point density maps with random localization", "grouped by Federal Units.", "Choropleth maps with",
  "logarithmic interval classification", "Sources: Ministério da Saúde, IBGE.", "Projection: Sirgas 2000."]
const noteY = [1530, 1562.7, 1595, 1628.3, 1660.7, 1693.3]
notes.forEach((n, i) => label(n, 662.5, noteY[i], 28.5, { anchor: "middle" }))
</script>
</body>
</html>
